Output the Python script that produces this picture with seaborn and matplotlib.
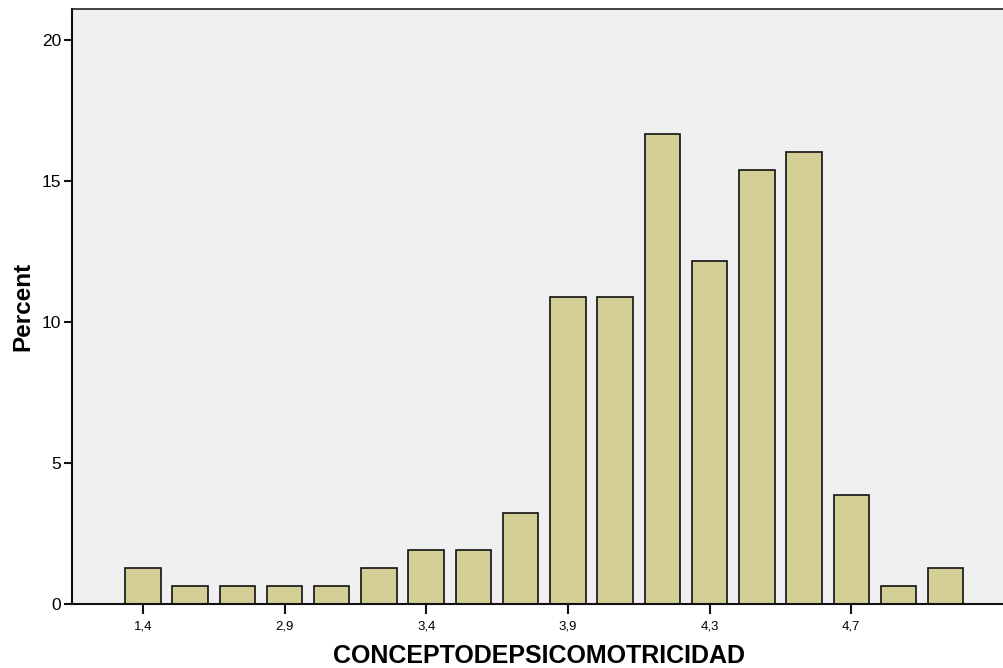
import matplotlib
matplotlib.use("Agg")
import matplotlib.pyplot as plt
import seaborn as sns
import pandas as pd

# values (percent of cases)
categories = ["1,4", "2,4", "2,7", "2,9", "3,0", "3,1", "3,4", "3,6", "3,7",
              "3,9", "4,0", "4,1", "4,3", "4,4", "4,6", "4,7", "4,9", "5,0"]
percents = [1.28, 0.64, 0.64, 0.64, 0.64, 1.28, 1.92, 1.92, 3.21,
            10.90, 10.90, 16.67, 12.18, 15.38, 16.03, 3.85, 0.64, 1.28]
shown_labels = ["1,4", "2,9", "3,4", "3,9", "4,3", "4,7"]
y_ticks = [0, 5, 10, 15, 20]

df = pd.DataFrame({"cat": categories, "pct": percents})

sns.set_theme(style="white")
plt.rcParams["font.family"] = ["Liberation Sans", "DejaVu Sans"]
plt.rcParams["text.color"] = "black"
plt.rcParams["axes.labelcolor"] = "black"
plt.rcParams["xtick.color"] = "black"
plt.rcParams["ytick.color"] = "black"

fig = plt.figure(figsize=(10.04, 6.68), dpi=100)
ax = fig.add_axes([0.0717, 0.0958, 0.93, 0.8907])
ax.set_facecolor("#f0f0f0")

sns.barplot(data=df, x="cat", y="pct", order=categories, color="#d3cf97",
            saturation=1, width=0.75, edgecolor="#111111", linewidth=1.2, ax=ax)

ax.set_xlim(-1.5, 18.27)
ax.set_ylim(0, 21.1)

pos = [categories.index(c) for c in shown_labels]
ax.set_xticks(pos)
ax.set_xticklabels(shown_labels, fontsize=9.5)
ax.set_yticks(y_ticks)
ax.set_yticklabels([str(t) for t in y_ticks], fontsize=12.5)
ax.tick_params(axis="x", direction="out", length=7, width=1.5, color="#111111", pad=5, bottom=True)
ax.tick_params(axis="y", direction="out", length=6, width=1.5, color="#111111", pad=2, left=True)

for side in ["left", "bottom"]:
    ax.spines[side].set_color("#111111")
    ax.spines[side].set_linewidth(1.5)
ax.spines["top"].set_color("#222222")
ax.spines["top"].set_linewidth(1.2)
ax.spines["right"].set_visible(False)

ax.set_xlabel("CONCEPTODEPSICOMOTRICIDAD", fontsize=18, fontweight="bold", labelpad=8)
ax.set_ylabel("Percent", fontsize=17.5, fontweight="bold", labelpad=5)

fig.savefig("out.png", dpi=100)
